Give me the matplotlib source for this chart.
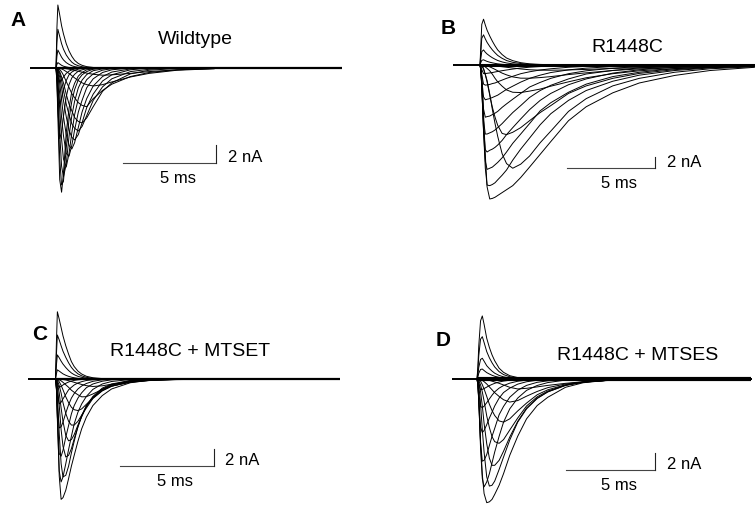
"""Na+ current families: wildtype vs R1448C, with and without MTS reagents."""
import matplotlib
matplotlib.use("Agg")
import matplotlib.pyplot as plt

plt.rcParams["font.family"] = ["Liberation Sans", "DejaVu Sans"]

# sample times, ms after the step onset
t_fast = [0, 0.05, 0.1, 0.2, 0.3, 0.4, 0.55, 0.7, 0.85, 1.0, 1.2, 1.4, 1.65,
          2.0, 2.5, 3.0, 4.0, 5.0, 6.5, 8.5]
t_slow = [0, 0.05, 0.1, 0.2, 0.3, 0.4, 0.55, 0.7, 0.85, 1.0, 1.25, 1.5, 1.85,
          2.3, 2.8, 3.4, 4.0, 5.0, 6.0, 7.5, 9.0, 11.0, 13.0, 15.5]

# sweep extent (ms) for the holding baseline
sweep_a = [-1.4, 15.4]
sweep_b = [-1.5, 15.5]
sweep_c = [-1.45, 15.2]
sweep_d = [-1.4, 15.5]

# A: wildtype (nA, on t_fast)
wt_traces = [
    [0, -1.6, -5.4, -12.4, -13.8, -11.7, -7.2, -4.5, -2.6, -1.7, -0.9, -0.5, -0.2, -0.1, 0, 0, 0, 0, 0, 0],
    [0, -1.0, -3.9, -10.1, -13.0, -12.6, -8.9, -5.7, -3.7, -2.4, -1.3, -0.76, -0.4, -0.13, 0, 0, 0, 0, 0, 0],
    [0, -0.6, -2.3, -7.3, -10.9, -12.1, -10.7, -7.6, -5.3, -3.7, -2.2, -1.35, -0.73, -0.3, -0.1, 0, 0, 0, 0, 0],
    [0, -0.35, -1.4, -4.6, -7.9, -10.1, -11.0, -9.5, -7.2, -5.2, -3.4, -2.2, -1.3, -0.65, -0.24, -0.08, 0, 0, 0, 0],
    [0, -0.2, -0.7, -2.9, -5.5, -7.5, -9.5, -9.8, -8.6, -6.9, -4.9, -3.6, -2.2, -1.2, -0.5, -0.2, 0, 0, 0, 0],
    [0, -0.1, -0.4, -1.7, -3.5, -5.4, -7.4, -8.6, -9.0, -8.3, -6.6, -4.9, -3.4, -2.0, -0.95, -0.45, -0.1, 0, 0, 0],
    [0, -0.05, -0.2, -1.0, -2.2, -3.6, -5.4, -6.9, -7.7, -8.0, -7.4, -6.1, -4.4, -2.9, -1.45, -0.75, -0.2, 0, 0, 0],
    [0, 0, -0.14, -0.6, -1.4, -2.45, -4.0, -5.2, -6.2, -6.7, -7.0, -6.5, -5.3, -3.6, -2.1, -1.2, -0.4, -0.14, 0, 0],
    [0, 0, -0.1, -0.4, -1.0, -1.65, -2.9, -4.0, -4.75, -5.5, -5.95, -6.1, -5.55, -4.3, -2.6, -1.65, -0.65, -0.25, -0.05, 0],
    [0, 0, -0.03, -0.17, -0.43, -0.8, -1.5, -2.15, -2.85, -3.3, -3.85, -4.15, -4.3, -3.4, -2.5, -1.8, -0.95, -0.5, -0.2, -0.05],
    [0, 0, 0, -0.05, -0.1, -0.2, -0.4, -0.6, -0.85, -1.1, -1.4, -1.65, -1.85, -2.0, -1.85, -1.55, -1.0, -0.6, -0.25, -0.08],
    [0, 0, 0, 0, 0, -0.03, -0.08, -0.13, -0.2, -0.27, -0.37, -0.46, -0.57, -0.7, -0.8, -0.76, -0.6, -0.4, -0.2, -0.07],
    [0, -1.6, -4.5, -7.85, -7.1, -5.4, -3.2, -1.85, -1.1, -0.7, -0.35, -0.2, -0.08, 0, 0, 0, 0, 0, 0, 0],
    [0, -1.0, -2.5, -4.0, -3.4, -2.4, -1.4, -0.75, -0.45, -0.28, -0.12, -0.05, 0, 0, 0, 0, 0, 0, 0, 0],
    [0, -0.5, -1.0, -1.5, -1.3, -1.0, -0.6, -0.35, -0.2, -0.12, -0.05, 0, 0, 0, 0, 0, 0, 0, 0, 0],
    [0, 4.5, 7.0, 5.9, 4.7, 3.8, 2.7, 1.9, 1.3, 0.85, 0.5, 0.3, 0.15, 0.06, 0, 0, 0, 0, 0, 0],
    [0, 2.8, 4.3, 3.5, 2.7, 2.1, 1.45, 1.0, 0.65, 0.42, 0.25, 0.14, 0.07, 0.03, 0, 0, 0, 0, 0, 0],
    [0, 1.3, 2.0, 1.6, 1.2, 0.9, 0.6, 0.4, 0.25, 0.15, 0.08, 0.04, 0.02, 0, 0, 0, 0, 0, 0, 0],
    [0, 0.4, 0.6, 0.45, 0.3, 0.2, 0.12, 0.06, 0.03, 0, 0, 0, 0, 0, 0, 0, 0, 0, 0, 0],
]

# B: R1448C (nA, on t_slow)
r1448c_traces = [
    [0, -0.5, -2.0, -8.5, -15.5, -21.0, -23.1, -23.0, -22.8, -22.5, -22.0, -21.5, -20.8, -19.4, -17.6, -15.4, -13.2, -9.6, -7.2, -4.8, -3.1, -1.8, -0.95, -0.4],
    [0, -0.8, -3.4, -11.3, -17.8, -20.7, -20.8, -20.6, -20.3, -19.8, -19.0, -18.1, -16.4, -14.5, -12.6, -10.3, -8.4, -6.1, -4.4, -2.8, -1.75, -0.95, -0.5, -0.23],
    [0, -0.9, -3.6, -11.5, -16.6, -18.0, -17.8, -17.6, -17.2, -16.8, -16.0, -15.0, -13.5, -11.9, -10.1, -7.9, -6.5, -4.7, -3.3, -2.0, -1.25, -0.63, -0.32, -0.13],
    [0, -0.9, -3.9, -11.0, -14.6, -15.0, -14.7, -14.5, -14.2, -13.8, -13.0, -12.0, -10.8, -9.3, -7.7, -6.1, -4.9, -3.4, -2.4, -1.4, -0.82, -0.4, -0.2, -0.08],
    [0, -1.0, -3.6, -9.6, -11.9, -11.9, -11.7, -11.5, -11.2, -10.8, -10.1, -9.3, -8.2, -7.0, -5.6, -4.4, -3.5, -2.4, -1.55, -0.94, -0.5, -0.22, -0.1, -0.04],
    [0, -0.8, -3.1, -7.6, -9.0, -8.9, -8.8, -8.55, -8.3, -8.0, -7.3, -6.7, -5.9, -4.9, -3.8, -3.0, -2.3, -1.5, -1.0, -0.54, -0.29, -0.12, -0.05, 0],
    [0, -0.7, -2.5, -5.5, -6.0, -5.9, -5.8, -5.6, -5.4, -5.2, -4.7, -4.2, -3.65, -2.95, -2.3, -1.75, -1.3, -0.84, -0.54, -0.27, -0.13, -0.05, 0, 0],
    [0, -0.45, -1.65, -3.3, -3.47, -3.43, -3.35, -3.2, -3.1, -2.9, -2.6, -2.3, -1.95, -1.5, -1.17, -0.86, -0.65, -0.39, -0.24, -0.1, -0.05, 0, 0, 0],
    [0, -0.25, -0.8, -1.48, -1.48, -1.43, -1.37, -1.3, -1.2, -1.12, -0.98, -0.86, -0.7, -0.52, -0.38, -0.27, -0.19, -0.1, -0.05, -0.02, 0, 0, 0, 0],
    [0, 0, -0.1, -0.6, -1.6, -2.7, -5.0, -7.7, -10.1, -12.3, -15.3, -17.0, -17.8, -17.1, -15.7, -13.4, -11.4, -8.0, -5.8, -3.6, -2.3, -1.25, -0.65, -0.3],
    [0, 0, -0.1, -0.7, -1.7, -2.9, -5.2, -7.3, -9.0, -10.4, -11.8, -12.0, -11.6, -10.8, -9.6, -8.2, -7.0, -4.9, -3.6, -2.3, -1.45, -0.8, -0.43, -0.2],
    [0, 0, 0, -0.14, -0.34, -0.58, -1.0, -1.6, -2.3, -2.9, -3.65, -4.3, -4.7, -4.75, -4.5, -4.15, -3.65, -2.9, -2.2, -1.5, -1.0, -0.62, -0.38, -0.2],
    [0, 0, 0, -0.05, -0.1, -0.18, -0.32, -0.53, -0.76, -1.0, -1.4, -1.7, -2.05, -2.27, -2.28, -2.17, -2.0, -1.65, -1.35, -0.95, -0.67, -0.43, -0.28, -0.16],
    [0, 0, 0, -0.01, -0.02, -0.04, -0.07, -0.11, -0.16, -0.21, -0.3, -0.39, -0.52, -0.68, -0.82, -0.89, -0.9, -0.85, -0.76, -0.6, -0.46, -0.31, -0.21, -0.12],
    [0, 3.5, 7.0, 7.9, 6.9, 6.0, 5.0, 4.1, 3.3, 2.6, 1.8, 1.2, 0.75, 0.4, 0.2, 0.1, 0.05, 0, 0, 0, 0, 0, 0, 0],
    [0, 2.3, 4.6, 5.2, 4.5, 3.9, 3.2, 2.6, 2.1, 1.65, 1.15, 0.77, 0.46, 0.25, 0.12, 0.06, 0.03, 0, 0, 0, 0, 0, 0, 0],
    [0, 1.2, 2.3, 2.6, 2.2, 1.9, 1.55, 1.25, 1.0, 0.78, 0.53, 0.35, 0.2, 0.1, 0.05, 0.02, 0, 0, 0, 0, 0, 0, 0, 0],
    [0, 0.45, 0.8, 0.9, 0.75, 0.62, 0.48, 0.37, 0.28, 0.2, 0.12, 0.07, 0.03, 0.01, 0, 0, 0, 0, 0, 0, 0, 0, 0, 0],
]

# C: R1448C + MTSET (nA, on t_fast)
mtset_traces = [
    [0, -1.2, -4.4, -11.7, -14.5, -14.3, -13.4, -12.0, -10.5, -9.2, -7.5, -6.0, -4.6, -3.2, -2.0, -1.2, -0.45, -0.16, -0.04, 0],
    [0, -1.25, -4.9, -11.1, -12.4, -11.8, -10.2, -8.5, -6.9, -5.4, -4.0, -3.0, -2.1, -1.25, -0.6, -0.3, -0.06, 0, 0, 0],
    [0, -1.2, -4.5, -9.0, -9.3, -8.6, -7.0, -5.6, -4.2, -3.2, -2.3, -1.66, -1.05, -0.6, -0.27, -0.1, 0, 0, 0, 0],
    [0, -0.9, -3.2, -5.9, -5.75, -5.2, -4.1, -3.1, -2.3, -1.75, -1.2, -0.84, -0.54, -0.28, -0.1, -0.04, 0, 0, 0, 0],
    [0, -0.5, -1.8, -3.0, -2.8, -2.4, -1.85, -1.3, -1.0, -0.72, -0.48, -0.32, -0.18, -0.09, -0.03, 0, 0, 0, 0, 0],
    [0, -0.2, -0.65, -1.0, -0.88, -0.72, -0.52, -0.36, -0.25, -0.17, -0.1, -0.06, -0.03, 0, 0, 0, 0, 0, 0, 0],
    [0, -0.5, -1.9, -6.6, -10.2, -11.8, -11.6, -10.5, -8.9, -7.5, -5.7, -4.4, -3.2, -2.1, -1.1, -0.6, -0.17, -0.05, 0, 0],
    [0, -0.2, -0.85, -3.2, -6.1, -8.1, -9.4, -9.2, -8.4, -7.2, -5.8, -4.5, -3.3, -2.2, -1.2, -0.68, -0.2, -0.07, 0, 0],
    [0, -0.05, -0.4, -1.7, -3.5, -5.1, -6.8, -7.45, -7.3, -6.7, -5.55, -4.55, -3.3, -2.25, -1.3, -0.74, -0.25, -0.08, 0, 0],
    [0, 0, -0.17, -0.8, -1.7, -2.85, -4.15, -5.1, -5.55, -5.55, -5.1, -4.35, -3.5, -2.35, -1.43, -0.87, -0.32, -0.12, -0.02, 0],
    [0, 0, -0.05, -0.34, -0.76, -1.3, -2.15, -2.85, -3.4, -3.7, -3.8, -3.6, -3.05, -2.3, -1.4, -0.87, -0.35, -0.14, -0.03, 0],
    [0, 0, 0, -0.1, -0.22, -0.4, -0.7, -1.0, -1.35, -1.6, -1.9, -2.15, -2.13, -1.8, -1.26, -0.84, -0.4, -0.18, -0.05, 0],
    [0, 0, 0, 0, -0.03, -0.06, -0.12, -0.2, -0.3, -0.4, -0.53, -0.66, -0.8, -0.9, -0.82, -0.63, -0.36, -0.19, -0.07, -0.02],
    [0, 4.5, 8.1, 7.2, 6.2, 5.2, 4.0, 3.0, 2.1, 1.5, 0.95, 0.6, 0.33, 0.15, 0.05, 0, 0, 0, 0, 0],
    [0, 3.0, 5.3, 4.7, 4.0, 3.35, 2.6, 1.95, 1.4, 1.0, 0.62, 0.38, 0.2, 0.08, 0.03, 0, 0, 0, 0, 0],
    [0, 1.7, 2.9, 2.55, 2.15, 1.8, 1.38, 1.02, 0.73, 0.52, 0.32, 0.2, 0.1, 0.04, 0, 0, 0, 0, 0, 0],
    [0, 0.65, 1.1, 0.95, 0.78, 0.62, 0.45, 0.32, 0.22, 0.15, 0.08, 0.04, 0.02, 0, 0, 0, 0, 0, 0, 0],
]

# D: R1448C + MTSES (nA, on t_slow)
mtses_traces = [
    [0, -0.6, -2.4, -7.5, -11.5, -13.8, -14.9, -14.8, -14.5, -13.9, -12.8, -11.4, -9.2, -6.9, -4.8, -3.2, -2.2, -1.0, -0.45, -0.12, -0.03, 0, 0, 0],
    [0, -0.65, -2.6, -8.3, -12.0, -13.0, -12.4, -11.4, -10.1, -8.8, -6.9, -5.2, -3.6, -2.3, -1.37, -0.78, -0.43, -0.13, -0.04, 0, 0, 0, 0, 0],
    [0, -0.7, -2.8, -7.7, -9.9, -9.8, -9.1, -8.0, -6.9, -5.95, -4.3, -3.3, -2.2, -1.35, -0.77, -0.4, -0.22, -0.06, 0, 0, 0, 0, 0, 0],
    [0, -0.65, -2.5, -5.8, -6.45, -6.2, -5.5, -4.7, -4.0, -3.25, -2.3, -1.63, -1.1, -0.62, -0.33, -0.15, -0.08, 0, 0, 0, 0, 0, 0, 0],
    [0, -0.45, -1.65, -3.3, -3.45, -3.27, -2.85, -2.4, -1.95, -1.55, -1.1, -0.79, -0.5, -0.27, -0.14, -0.06, -0.03, 0, 0, 0, 0, 0, 0, 0],
    [0, -0.2, -0.7, -1.28, -1.25, -1.15, -0.98, -0.8, -0.65, -0.52, -0.36, -0.25, -0.15, -0.07, -0.03, 0, 0, 0, 0, 0, 0, 0, 0, 0],
    [0, -0.13, -0.65, -3.0, -6.1, -8.8, -11.8, -12.9, -12.8, -12.3, -10.9, -9.4, -7.35, -5.2, -3.6, -2.35, -1.55, -0.75, -0.36, -0.13, -0.04, 0, 0, 0],
    [0, 0, -0.3, -1.5, -3.25, -5.35, -7.8, -9.55, -10.4, -10.4, -9.8, -8.7, -7.0, -5.1, -3.5, -2.3, -1.55, -0.78, -0.39, -0.14, -0.05, 0, 0, 0],
    [0, 0, -0.16, -0.7, -1.56, -2.65, -4.45, -5.85, -6.95, -7.55, -7.75, -7.3, -6.15, -4.7, -3.25, -2.15, -1.45, -0.73, -0.37, -0.14, -0.05, 0, 0, 0],
    [0, 0, -0.03, -0.26, -0.68, -1.2, -2.1, -3.05, -3.8, -4.4, -5.05, -5.2, -4.8, -3.85, -2.9, -1.9, -1.3, -0.7, -0.38, -0.15, -0.05, 0, 0, 0],
    [0, 0, 0, -0.07, -0.17, -0.32, -0.6, -0.95, -1.3, -1.65, -2.1, -2.5, -2.78, -2.6, -2.07, -1.5, -1.04, -0.6, -0.34, -0.15, -0.06, -0.02, 0, 0],
    [0, 0, 0, 0, 0, -0.05, -0.1, -0.17, -0.26, -0.36, -0.52, -0.72, -1.0, -1.2, -1.12, -0.95, -0.77, -0.52, -0.33, -0.17, -0.08, -0.03, 0, 0],
    [0, 1.5, 4.0, 7.0, 7.6, 6.6, 4.9, 3.8, 2.9, 2.2, 1.3, 0.8, 0.4, 0.17, 0.06, 0, 0, 0, 0, 0, 0, 0, 0, 0],
    [0, 1.0, 2.8, 4.8, 5.1, 4.4, 3.3, 2.55, 1.95, 1.45, 0.88, 0.53, 0.27, 0.11, 0.04, 0, 0, 0, 0, 0, 0, 0, 0, 0],
    [0, 0.5, 1.4, 2.35, 2.5, 2.15, 1.6, 1.25, 0.95, 0.7, 0.43, 0.26, 0.13, 0.05, 0.02, 0, 0, 0, 0, 0, 0, 0, 0, 0],
    [0, 0.25, 0.7, 1.15, 1.2, 1.02, 0.77, 0.6, 0.45, 0.33, 0.2, 0.12, 0.06, 0.02, 0, 0, 0, 0, 0, 0, 0, 0, 0, 0],
]

labels = ["A", "B", "C", "D"]
titles = ["Wildtype", "R1448C", "R1448C + MTSET", "R1448C + MTSES"]
scale_ms = 5
scale_na = 2

W, H = 755, 505


def fx(x):
    return x / W


def fy(y):
    return 1 - y / H


# layout in figure pixels: box, step onset x, baseline y, px per ms, px per nA,
# baseline width, scale-bar corner (ms, nA), label / title centres
layout = [
    dict(box=(0, 0, 377, 252), x0=56, y0=68, kx=18.6, ky=9.0, lw_base=1.6,
         bar=(8.6, -10.6), lab=(18, 21), tit=(195, 39)),
    dict(box=(377, 0, 755, 252), x0=480, y0=65, kx=17.7, ky=5.8, lw_base=2.2,
         bar=(9.9, -17.8), lab=(448, 28), tit=(627, 47)),
    dict(box=(0, 252, 377, 505), x0=55.5, y0=379, kx=18.7, ky=8.3, lw_base=1.6,
         bar=(8.45, -10.45), lab=(40, 334), tit=(190, 352)),
    dict(box=(377, 252, 755, 505), x0=477, y0=379, kx=17.7, ky=8.3, lw_base=3.0,
         bar=(10.05, -10.95), lab=(443, 340), tit=(638, 355)),
]

panels = [
    (t_fast, wt_traces, sweep_a),
    (t_slow, r1448c_traces, sweep_b),
    (t_fast, mtset_traces, sweep_c),
    (t_slow, mtses_traces, sweep_d),
]

fig = plt.figure(figsize=(W / 100, H / 100), dpi=100)

for k, ((t, traces, sweep), L) in enumerate(zip(panels, layout)):
    l, top, r, b = L["box"]
    ax = fig.add_axes([fx(l), fy(b), (r - l) / W, (b - top) / H])
    ax.set_xlim((l - L["x0"]) / L["kx"], (r - L["x0"]) / L["kx"])
    ax.set_ylim((L["y0"] - b) / L["ky"], (L["y0"] - top) / L["ky"])
    ax.axis("off")

    # holding baseline, thin before the step, thicker (noisy) after it
    ax.plot([sweep[0], 0], [0, 0], color="black", lw=1.4, solid_capstyle="butt")
    ax.plot([0, sweep[1]], [0, 0], color="black", lw=L["lw_base"],
            solid_capstyle="butt")
    for y in traces:
        ax.plot(t, y, color="black", lw=0.7)

    # scale bars
    bx, by = L["bar"]
    ax.plot([bx - scale_ms, bx], [by, by], color="#444444", lw=0.8)
    ax.plot([bx, bx], [by, by + scale_na], color="#222222", lw=0.8)
    ax.annotate(f"{scale_na} nA", (bx, by), xytext=(8.5, 4),
                textcoords="offset points", ha="left", va="center",
                fontsize=12)
    ax.annotate(f"{scale_ms} ms", (bx - scale_ms / 2, by), xytext=(6, -11),
                textcoords="offset points", ha="center", va="center",
                fontsize=12)

    fig.text(fx(L["lab"][0]), fy(L["lab"][1]), labels[k], ha="center",
             va="center", fontsize=15, fontweight="bold")
    fig.text(fx(L["tit"][0]), fy(L["tit"][1]), titles[k], ha="center",
             va="center", fontsize=14)

fig.savefig("out.png", dpi=100)
